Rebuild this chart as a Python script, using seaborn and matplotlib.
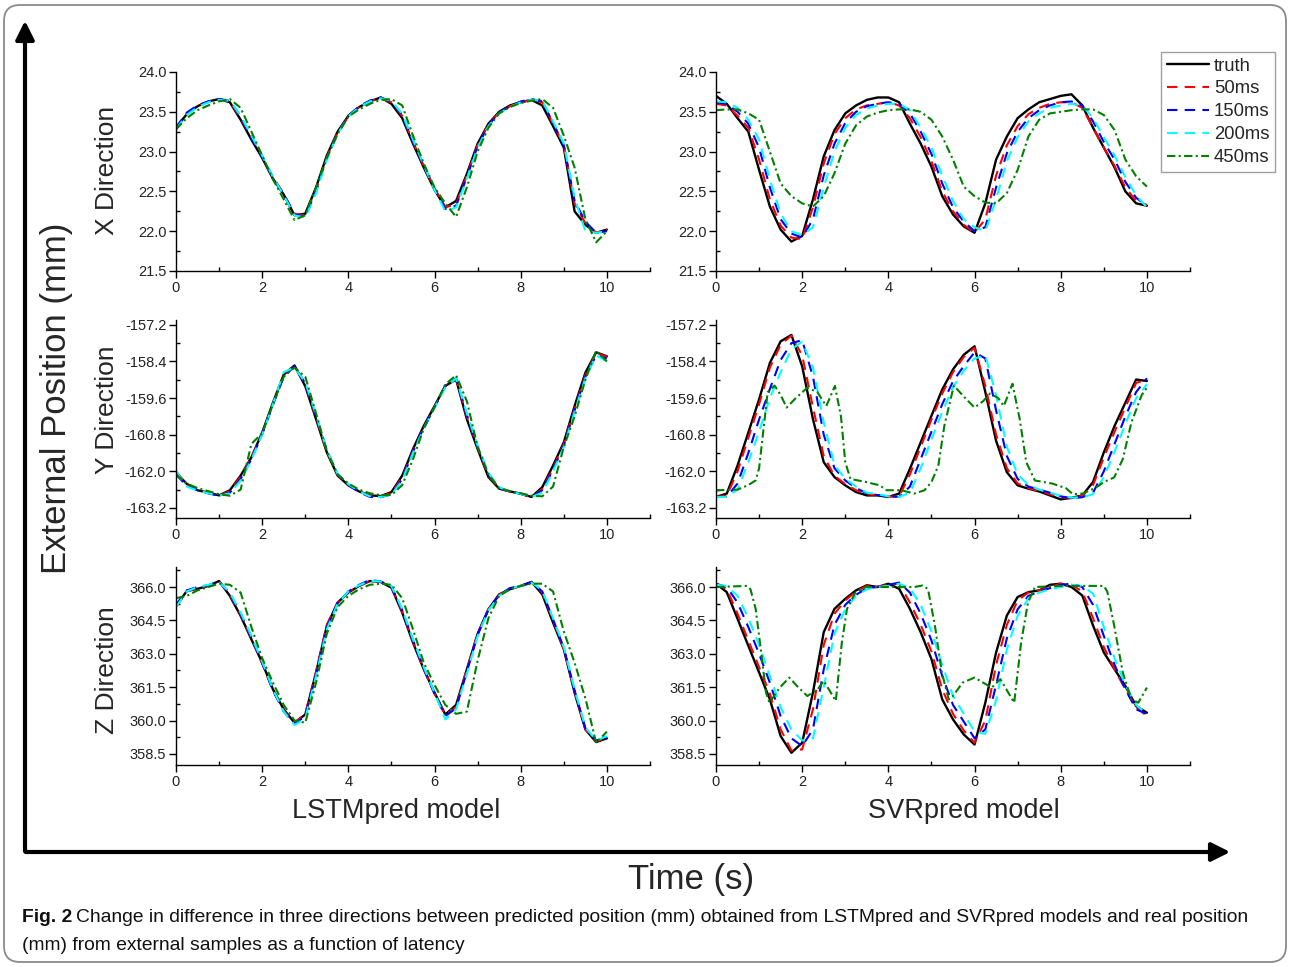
import numpy as np
import matplotlib
matplotlib.use("Agg")
import matplotlib.pyplot as plt
from matplotlib.ticker import MultipleLocator, FormatStrFormatter
from matplotlib.patches import FancyBboxPatch
import seaborn as sns

sns.set_style("ticks")
plt.rcParams['font.family'] = ['Liberation Sans', 'DejaVu Sans']

# time grid (s), 0.25 s step
t = [i * 0.25 for i in range(41)]

# ---------------- LSTMpred, X direction
xl_truth = [23.30, 23.47, 23.57, 23.63, 23.66, 23.62, 23.40, 23.15, 22.92, 22.66, 22.46, 22.20, 22.22, 22.55, 22.95, 23.25, 23.45, 23.56, 23.63, 23.68, 23.60, 23.42, 23.10, 22.80, 22.52, 22.30, 22.38, 22.72, 23.10, 23.35, 23.50, 23.58, 23.62, 23.65, 23.58, 23.32, 23.05, 22.25, 22.08, 21.98, 22.02]
xl_50 = [23.28, 23.48, 23.58, 23.62, 23.66, 23.63, 23.42, 23.18, 22.94, 22.68, 22.47, 22.22, 22.20, 22.52, 22.93, 23.24, 23.44, 23.56, 23.64, 23.67, 23.62, 23.45, 23.12, 22.82, 22.54, 22.30, 22.34, 22.70, 23.08, 23.34, 23.49, 23.57, 23.62, 23.65, 23.62, 23.35, 23.08, 22.35, 22.10, 21.98, 22.02]
xl_150 = [23.30, 23.49, 23.58, 23.63, 23.66, 23.64, 23.44, 23.18, 22.93, 22.67, 22.46, 22.21, 22.18, 22.50, 22.92, 23.23, 23.45, 23.57, 23.64, 23.68, 23.63, 23.46, 23.13, 22.82, 22.53, 22.28, 22.32, 22.68, 23.07, 23.33, 23.49, 23.57, 23.63, 23.66, 23.63, 23.36, 23.08, 22.38, 22.12, 21.98, 22.00]
xl_200 = [23.28, 23.46, 23.56, 23.62, 23.65, 23.64, 23.45, 23.20, 22.95, 22.68, 22.45, 22.20, 22.17, 22.48, 22.90, 23.22, 23.44, 23.56, 23.63, 23.67, 23.64, 23.47, 23.15, 22.83, 22.52, 22.25, 22.30, 22.66, 23.05, 23.32, 23.48, 23.56, 23.62, 23.65, 23.64, 23.38, 23.10, 22.42, 22.00, 21.98, 22.00]
xl_450 = [23.28, 23.42, 23.52, 23.58, 23.63, 23.66, 23.55, 23.25, 22.95, 22.65, 22.40, 22.14, 22.20, 22.55, 22.92, 23.22, 23.44, 23.53, 23.60, 23.65, 23.66, 23.58, 23.20, 22.85, 22.55, 22.35, 22.18, 22.55, 23.00, 23.30, 23.48, 23.56, 23.61, 23.64, 23.66, 23.55, 23.20, 22.80, 22.15, 21.86, 22.00]

# ---------------- LSTMpred, Y direction
yl_truth = [-162.05, -162.41, -162.62, -162.70, -162.79, -162.62, -162.14, -161.54, -160.73, -159.75, -158.83, -158.53, -159.21, -160.29, -161.38, -162.14, -162.46, -162.66, -162.79, -162.81, -162.68, -162.14, -161.27, -160.51, -159.86, -159.20, -158.99, -160.29, -161.27, -162.19, -162.57, -162.66, -162.73, -162.84, -162.52, -161.81, -161.05, -159.86, -158.77, -158.10, -158.23]
yl_50 = [-162.0, -162.45, -162.6, -162.72, -162.8, -162.65, -162.18, -161.55, -160.75, -159.8, -158.88, -158.55, -159.15, -160.25, -161.35, -162.12, -162.45, -162.66, -162.8, -162.83, -162.7, -162.2, -161.32, -160.55, -159.9, -159.2, -158.98, -160.2, -161.22, -162.15, -162.55, -162.66, -162.74, -162.85, -162.58, -161.9, -161.1, -159.95, -158.85, -158.12, -158.25]
yl_150 = [-162.1, -162.48, -162.62, -162.72, -162.8, -162.7, -162.25, -161.6, -160.78, -159.82, -158.9, -158.55, -159.12, -160.2, -161.3, -162.1, -162.45, -162.68, -162.84, -162.85, -162.75, -162.25, -161.35, -160.55, -159.9, -159.2, -158.95, -160.15, -161.2, -162.1, -162.55, -162.66, -162.74, -162.84, -162.62, -161.95, -161.15, -160.0, -158.9, -158.2, -158.3]
yl_200 = [-162.0, -162.5, -162.63, -162.72, -162.8, -162.72, -162.3, -161.62, -160.8, -159.8, -158.75, -158.6, -159.08, -160.15, -161.3, -162.08, -162.42, -162.66, -162.82, -162.84, -162.76, -162.3, -161.4, -160.6, -159.92, -159.25, -158.95, -160.1, -161.15, -162.05, -162.52, -162.66, -162.74, -162.84, -162.7, -162.0, -161.2, -160.05, -158.95, -158.2, -158.4]
yl_450 = [-162.1, -162.4, -162.55, -162.65, -162.75, -162.8, -162.6, -161.1, -160.75, -159.8, -158.9, -158.6, -158.9, -160.1, -161.35, -162.1, -162.4, -162.6, -162.72, -162.78, -162.78, -162.45, -161.6, -160.6, -159.9, -159.15, -158.85, -159.7, -161.2, -162.1, -162.55, -162.65, -162.72, -162.8, -162.82, -162.5, -161.2, -160.2, -159.0, -158.05, -158.4]

# ---------------- LSTMpred, Z direction
zl_truth = [365.15, 365.82, 365.92, 366.05, 366.27, 365.60, 364.70, 363.65, 362.60, 361.40, 360.50, 359.90, 360.27, 362.15, 364.25, 365.30, 365.75, 366.05, 366.27, 366.23, 365.97, 364.85, 363.50, 362.30, 361.25, 360.27, 360.70, 362.30, 363.90, 365.00, 365.67, 365.90, 366.05, 366.23, 365.67, 364.40, 363.20, 361.25, 359.60, 359.03, 359.20]
zl_50 = [365.1, 365.8, 365.95, 366.05, 366.25, 365.65, 364.75, 363.7, 362.55, 361.35, 360.45, 359.9, 360.3, 362.2, 364.3, 365.3, 365.78, 366.05, 366.28, 366.22, 366.0, 364.9, 363.55, 362.3, 361.2, 360.25, 360.6, 362.3, 363.9, 365.0, 365.65, 365.95, 366.02, 366.2, 365.75, 364.5, 363.2, 361.3, 359.6, 359.05, 359.25]
zl_150 = [365.2, 365.85, 366.0, 366.08, 366.25, 365.7, 364.8, 363.75, 362.6, 361.35, 360.4, 359.85, 360.2, 362.1, 364.2, 365.28, 365.8, 366.1, 366.32, 366.25, 366.02, 364.95, 363.6, 362.35, 361.2, 360.2, 360.55, 362.2, 363.85, 364.98, 365.65, 365.95, 366.05, 366.22, 365.8, 364.55, 363.25, 361.35, 359.65, 359.1, 359.2]
zl_200 = [365.1, 365.8, 366.0, 366.1, 366.22, 365.75, 364.85, 363.8, 362.65, 361.4, 360.4, 359.8, 360.1, 362.0, 364.1, 365.25, 365.8, 366.08, 366.28, 366.25, 366.05, 365.0, 363.65, 362.4, 361.25, 360.05, 360.5, 362.1, 363.8, 364.95, 365.6, 365.92, 366.05, 366.2, 365.85, 364.6, 363.3, 361.4, 359.7, 359.1, 359.3]
zl_450 = [365.5, 365.6, 365.85, 366.0, 366.15, 366.1, 365.75, 364.2, 362.8, 361.7, 360.7, 360.0, 359.9, 361.7, 363.9, 365.1, 365.6, 365.9, 366.1, 366.15, 366.1, 365.5, 364.1, 362.6, 361.6, 360.7, 360.3, 360.4, 362.7, 364.6, 365.6, 365.9, 366.05, 366.15, 366.15, 365.8, 364.0, 362.6, 361.0, 359.0, 359.5]

# ---------------- SVRpred, X direction
xs_truth = [23.70, 23.60, 23.42, 23.25, 22.77, 22.31, 22.02, 21.87, 21.94, 22.40, 22.94, 23.27, 23.48, 23.58, 23.65, 23.68, 23.68, 23.62, 23.35, 23.10, 22.81, 22.44, 22.21, 22.06, 21.98, 22.35, 22.90, 23.19, 23.42, 23.53, 23.62, 23.66, 23.70, 23.72, 23.58, 23.30, 23.05, 22.80, 22.50, 22.35, 22.32]
xs_50 = [23.60, 23.58, 23.45, 23.30, 22.90, 22.40, 22.07, 21.92, 21.90, 22.30, 22.85, 23.22, 23.42, 23.53, 23.58, 23.60, 23.62, 23.58, 23.42, 23.18, 22.88, 22.50, 22.25, 22.08, 21.98, 22.15, 22.70, 23.08, 23.32, 23.47, 23.55, 23.60, 23.62, 23.62, 23.55, 23.30, 23.05, 22.82, 22.55, 22.38, 22.33]
xs_150 = [23.62, 23.60, 23.50, 23.35, 23.05, 22.55, 22.15, 21.97, 21.92, 22.15, 22.70, 23.10, 23.36, 23.50, 23.57, 23.60, 23.62, 23.60, 23.48, 23.25, 22.97, 22.60, 22.30, 22.12, 22.00, 22.05, 22.55, 22.98, 23.25, 23.42, 23.52, 23.58, 23.62, 23.63, 23.58, 23.38, 23.12, 22.90, 22.62, 22.42, 22.32]
xs_200 = [23.63, 23.62, 23.55, 23.40, 23.15, 22.65, 22.22, 22.00, 21.95, 22.05, 22.55, 23.00, 23.30, 23.46, 23.54, 23.58, 23.60, 23.60, 23.52, 23.30, 23.05, 22.70, 22.38, 22.15, 22.05, 22.00, 22.40, 22.88, 23.18, 23.38, 23.48, 23.55, 23.58, 23.60, 23.58, 23.42, 23.18, 22.95, 22.68, 22.45, 22.30]
xs_450 = [23.52, 23.53, 23.53, 23.48, 23.40, 23.00, 22.60, 22.44, 22.35, 22.31, 22.44, 22.73, 23.10, 23.33, 23.44, 23.49, 23.52, 23.53, 23.53, 23.50, 23.40, 23.19, 22.90, 22.56, 22.44, 22.36, 22.35, 22.48, 22.77, 23.19, 23.40, 23.48, 23.50, 23.52, 23.53, 23.53, 23.46, 23.27, 22.90, 22.69, 22.56]

# ---------------- SVRpred, Y direction
ys_truth = [-162.84, -162.73, -161.81, -160.73, -159.64, -158.45, -157.74, -157.53, -158.56, -160.29, -161.70, -162.19, -162.46, -162.68, -162.79, -162.79, -162.84, -162.73, -161.92, -161.05, -160.18, -159.32, -158.66, -158.18, -157.90, -159.40, -161.00, -162.03, -162.46, -162.57, -162.66, -162.79, -162.92, -162.87, -162.79, -162.35, -161.38, -160.51, -159.75, -158.99, -159.04]
ys_50 = [-162.84, -162.80, -162.0, -160.9, -159.8, -158.6, -157.85, -157.55, -158.2, -159.9, -161.5, -162.15, -162.42, -162.62, -162.75, -162.78, -162.83, -162.82, -162.1, -161.2, -160.3, -159.45, -158.75, -158.25, -157.95, -159.2, -160.8, -161.9, -162.4, -162.55, -162.65, -162.75, -162.85, -162.88, -162.8, -162.45, -161.55, -160.7, -159.9, -159.1, -159.0]
ys_150 = [-162.84, -162.84, -162.4, -161.4, -160.3, -159.3, -158.35, -157.8, -157.7, -158.9, -160.8, -161.9, -162.3, -162.55, -162.72, -162.78, -162.82, -162.84, -162.5, -161.6, -160.7, -159.8, -159.05, -158.55, -158.1, -158.3, -160.0, -161.5, -162.25, -162.5, -162.6, -162.7, -162.82, -162.88, -162.85, -162.7, -162.0, -161.1, -160.2, -159.4, -158.95]
ys_200 = [-162.84, -162.84, -162.6, -161.7, -160.7, -159.6, -158.75, -158.0, -157.75, -158.6, -160.4, -161.8, -162.25, -162.5, -162.7, -162.75, -162.82, -162.84, -162.7, -161.9, -160.95, -160.05, -159.25, -158.7, -158.3, -158.2, -159.5, -161.2, -162.1, -162.45, -162.6, -162.7, -162.8, -162.86, -162.85, -162.75, -162.2, -161.35, -160.45, -159.6, -159.15]
ys_450_t = [0, 0.5, 0.75, 0.92, 1.0, 1.2, 1.36, 1.5, 1.64, 1.85, 2.12, 2.35, 2.56, 2.76, 2.9, 3.0, 3.12, 3.48, 3.8, 3.96, 4.3, 4.6, 4.84, 5.0, 5.16, 5.3, 5.52, 5.75, 6.0, 6.2, 6.36, 6.55, 6.68, 6.88, 7.05, 7.2, 7.4, 7.8, 8.12, 8.28, 8.5, 8.8, 9.0, 9.24, 9.44, 9.64, 9.88, 10.0]
ys_450 = [-162.62, -162.6, -162.45, -162.3, -161.9, -159.4, -159.19, -159.5, -159.91, -159.6, -159.26, -159.4, -159.86, -159.2, -160.2, -161.7, -162.25, -162.35, -162.46, -162.62, -162.62, -162.73, -162.62, -162.35, -161.81, -160.5, -159.19, -159.55, -159.91, -159.7, -159.45, -159.6, -159.86, -159.13, -160.3, -161.7, -162.3, -162.4, -162.55, -162.75, -162.73, -162.55, -162.35, -162.2, -161.6, -160.4, -159.5, -159.26]

# ---------------- SVRpred, Z direction
zs_truth = [366.15, 365.77, 364.57, 363.36, 362.16, 360.95, 359.30, 358.55, 359.00, 361.26, 363.97, 365.02, 365.47, 365.85, 366.08, 366.00, 366.15, 365.92, 365.02, 363.97, 362.76, 360.95, 360.05, 359.37, 358.92, 360.80, 363.06, 364.72, 365.55, 365.77, 365.85, 366.10, 366.15, 366.00, 365.62, 364.27, 363.06, 362.30, 361.55, 360.65, 360.35]
zs_50 = [366.15, 365.9, 364.8, 363.6, 362.4, 361.2, 359.6, 358.65, 358.7, 360.5, 363.4, 364.8, 365.4, 365.8, 366.05, 366.02, 366.1, 366.15, 365.3, 364.3, 363.1, 361.4, 360.3, 359.55, 359.0, 360.0, 362.5, 364.3, 365.4, 365.75, 365.85, 366.0, 366.15, 366.1, 365.8, 364.6, 363.3, 362.3, 361.4, 360.6, 360.2]
zs_150 = [366.15, 366.0, 365.3, 364.2, 363.0, 361.7, 360.2, 359.2, 358.85, 359.6, 362.3, 364.3, 365.2, 365.65, 365.95, 366.0, 366.1, 366.2, 365.75, 364.8, 363.6, 362.0, 360.7, 359.95, 359.2, 359.6, 361.6, 363.7, 365.0, 365.6, 365.8, 365.95, 366.1, 366.15, 366.0, 365.2, 363.8, 362.5, 361.4, 360.5, 360.3]
zs_200 = [366.1, 366.05, 365.6, 364.6, 363.4, 362.0, 360.6, 359.6, 359.1, 359.2, 361.5, 363.9, 365.0, 365.6, 365.9, 366.0, 366.05, 366.15, 365.95, 365.2, 364.0, 362.5, 361.1, 360.3, 359.5, 359.4, 360.9, 363.2, 364.7, 365.5, 365.75, 365.9, 366.0, 366.1, 366.05, 365.7, 364.2, 362.8, 361.6, 360.7, 360.3]
zs_450_t = [0, 0.72, 0.8, 0.92, 1.04, 1.16, 1.24, 1.48, 1.7, 1.88, 2.12, 2.36, 2.5, 2.78, 2.92, 3.04, 3.24, 3.48, 4.6, 4.8, 4.92, 5.08, 5.24, 5.4, 5.5, 5.72, 6.0, 6.2, 6.4, 6.6, 6.92, 7.08, 7.24, 7.4, 8.0, 9.0, 9.08, 9.24, 9.44, 9.64, 9.8, 10.0]
zs_450 = [366.0, 366.05, 365.9, 365.02, 363.2, 361.26, 360.8, 361.48, 361.93, 361.55, 361.1, 361.4, 361.78, 360.88, 363.5, 365.02, 365.77, 366.0, 366.0, 366.07, 365.9, 364.27, 362.16, 360.95, 361.1, 361.7, 361.93, 361.7, 361.48, 361.86, 360.8, 363.5, 365.3, 366.0, 366.05, 366.05, 365.8, 364.27, 362.16, 360.95, 360.8, 361.48]

labels = ["truth", "50ms", "150ms", "200ms", "450ms"]
colors = ["black", "#ff0000", "#0000ff", "#00ffff", "#008000"]
dash_styles = [None, (5, 3.5), (5, 3.5), (5, 3.5), (4, 1.6, 1, 1.6)]

# (series per panel, y limits, major step, tick range)
rows = [
    ([(t, xl_truth), (t, xl_50), (t, xl_150), (t, xl_200), (t, xl_450)],
     [(t, xs_truth), (t, xs_50), (t, xs_150), (t, xs_200), (t, xs_450)],
     (21.5, 24.0), 0.5, (21.5, 24.0)),
    ([(t, yl_truth), (t, yl_50), (t, yl_150), (t, yl_200), (t, yl_450)],
     [(t, ys_truth), (t, ys_50), (t, ys_150), (t, ys_200), (ys_450_t, ys_450)],
     (-163.53, -157.04), 1.2, (-163.2, -157.2)),
    ([(t, zl_truth), (t, zl_50), (t, zl_150), (t, zl_200), (t, zl_450)],
     [(t, zs_truth), (t, zs_50), (t, zs_150), (t, zs_200), (zs_450_t, zs_450)],
     (358.0, 366.9), 1.5, (358.5, 366.0)),
]

W, H = 1290, 967
fig = plt.figure(figsize=(W / 100, H / 100), dpi=100)

# background layer in pixel coordinates
bg = fig.add_axes([0, 0, 1, 1])
bg.set_xlim(0, W)
bg.set_ylim(H, 0)
bg.axis("off")
bg.add_patch(FancyBboxPatch((4, 5), W - 8, H - 10, boxstyle="round,pad=0,rounding_size=16",
                            ec="#8a8a8a", fc="none", lw=1.3))
bg.annotate("", xy=(25, 18), xytext=(25, 854),
            arrowprops=dict(arrowstyle="-|>", lw=3, color="black", mutation_scale=28))
bg.annotate("", xy=(1233, 852), xytext=(23, 852),
            arrowprops=dict(arrowstyle="-|>", lw=3, color="black", mutation_scale=28))
bg.text(57, 398, "External Position (mm)", rotation=90, ha="center", va="center", fontsize=25)
for yy, name in [(170, "X Direction"), (410, "Y Direction"), (670, "Z Direction")]:
    bg.text(107, yy, name, rotation=90, ha="center", va="center", fontsize=19)
bg.text(396, 811, "LSTMpred model", ha="center", va="center", fontsize=19.5)
bg.text(964, 811, "SVRpred model", ha="center", va="center", fontsize=19.5)
bg.text(691, 880, "Time (s)", ha="center", va="center", fontsize=25)
cap_kw = dict(ha="left", va="center", fontsize=13.9, color="#111111")
bg.text(22, 918, "Fig. 2", fontweight="bold", **cap_kw)
bg.text(76, 918, "Change in difference in three directions between predicted position (mm) obtained "
        "from LSTMpred and SVRpred models and real position", **cap_kw)
bg.text(22, 945, "(mm) from external samples as a function of latency", **cap_kw)

lefts = [176 / W, 716 / W]
width = 474 / W
tops = [72, 320, 567]
bottoms = [271, 518, 765]

legend_handles = None
for r, (left_series, right_series, ylim, step, trange) in enumerate(rows):
    for c, series in enumerate([left_series, right_series]):
        ax = fig.add_axes([lefts[c], 1 - bottoms[r] / H, width, (bottoms[r] - tops[r]) / H])
        ax.patch.set_alpha(0)
        for k, (tx, vals) in enumerate(series):
            sns.lineplot(x=tx, y=vals, ax=ax, color=colors[k], lw=1.5 if k else 1.7,
                         estimator=None, sort=False, label=labels[k])
            line = ax.get_lines()[-1]
            line.set_solid_joinstyle("round")
            if dash_styles[k] is not None:
                line.set_dashes(dash_styles[k])
        if r == 0 and c == 1:
            legend_handles = ax.get_lines()[:5]
        if ax.get_legend() is not None:
            ax.get_legend().remove()
        ax.set_xlim(0, 11)
        ax.set_ylim(*ylim)
        ax.set_xticks([0, 2, 4, 6, 8, 10])
        ax.xaxis.set_minor_locator(MultipleLocator(1))
        ax.set_yticks(np.round(np.arange(trange[0], trange[1] + step / 2, step), 2))
        ax.yaxis.set_minor_locator(MultipleLocator(step / 2))
        ax.yaxis.set_major_formatter(FormatStrFormatter("%.1f"))
        ax.set_xlabel("")
        ax.set_ylabel("")
        sns.despine(ax=ax)
        for sp in ["left", "bottom"]:
            ax.spines[sp].set_linewidth(1.0)
            ax.spines[sp].set_color("black")
        ax.tick_params(which="major", direction="out", length=5, width=1.0,
                       labelsize=10.5, colors="black", labelcolor="#222222", pad=2)
        ax.tick_params(which="minor", direction="in", length=3, width=1.0, colors="black")

fig.legend(legend_handles, labels, loc="upper right",
           bbox_to_anchor=(1275 / W, 1 - 52 / H), frameon=True, fancybox=False,
           edgecolor="#888888", fontsize=13.3, handlelength=2.3, handletextpad=0.25,
           labelspacing=0.32, borderpad=0.3, borderaxespad=0)

fig.savefig("out.png", dpi=100, facecolor="white")
